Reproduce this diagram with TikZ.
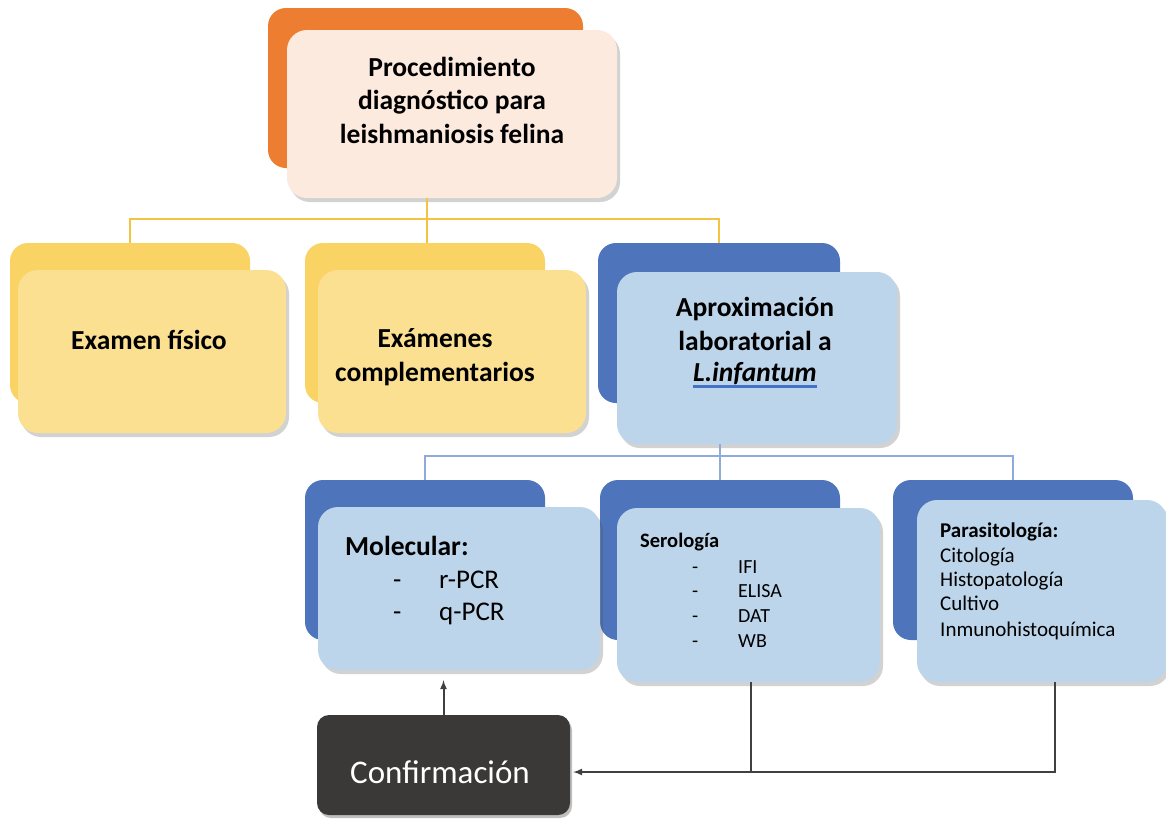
\documentclass[tikz,border=0pt]{standalone}
\usepackage{fontspec}
\setmainfont{Carlito}
\usetikzlibrary{shadows}
\definecolor{orangeB}{HTML}{ED7D31}
\definecolor{peachF}{HTML}{FCEADF}
\definecolor{yellowB}{HTML}{F9D465}
\definecolor{yellowF}{HTML}{FBE092}
\definecolor{blueB}{HTML}{4E74BB}
\definecolor{blueF}{HTML}{BDD5EA}
\definecolor{yline}{HTML}{F4C342}
\definecolor{bline}{HTML}{8FAADC}
\definecolor{darkbox}{HTML}{3B3838}
\definecolor{dline}{HTML}{404040}
\definecolor{ulblue}{HTML}{4472C4}
\tikzset{
  backbox/.style={rounded corners=18pt, inner sep=0pt, minimum width=240pt, minimum height=160pt},
  frontbox/.style={rounded corners=20pt, inner sep=0pt,
     drop shadow={shadow xshift=3pt, shadow yshift=-4pt, opacity=0.25, fill=black!70}},
  hd/.style={font=\bfseries\fontsize{27.5}{33.5}\selectfont, align=center, inner sep=0pt},
  lt/.style={anchor=base west, inner sep=0pt},
  big/.style={font=\fontsize{27}{30}\selectfont},
  small/.style={font=\fontsize{20}{24}\selectfont},
  mid/.style={font=\fontsize{21}{25}\selectfont},
  yconn/.style={draw=yline, line width=1.2pt},
  bconn/.style={draw=bline, line width=1.2pt},
  dconn/.style={draw=dline, line width=2pt},
}
\begin{document}
\begin{tikzpicture}[x=1pt,y=-1pt]
\useasboundingbox (0,0) rectangle (1166,820);
\fill[white] (0,0) rectangle (1166,820);

% coordinates for buses
\coordinate (bus1) at (427,219);
\coordinate (bus2) at (720,456);
\coordinate (jp) at (1055,772);
\coordinate (js) at (751,772);

% top
\node[backbox, fill=orangeB, minimum width=315pt] (topB) at (425.5,88) {};
\node[frontbox, fill=peachF, minimum width=330pt, minimum height=168pt] (topF) at (452,114) {};
\node[hd] (topT) at (452,100) {Procedimiento\\diagnóstico para\\leishmaniosis felina};

% level 2 back boxes
\node[backbox, fill=yellowB] (y1B) at (130,323) {};
\node[backbox, fill=yellowB] (y2B) at (425,323) {};
\node[backbox, fill=blueB, minimum width=242pt] (aB) at (719,323) {};

% yellow connectors
\draw[yconn] (bus1 |- topF.south) -- (bus1);
\draw[yconn] (y1B.north) |- (bus1) -| (aB.north);
\draw[yconn] (bus1) -- (bus1 |- y2B.north);

% level 2 front boxes
\node[frontbox, fill=yellowF, minimum width=268pt, minimum height=163pt] (y1F) at (152,351.5) {};
\node[hd] (y1T) at (149,340) {Examen físico};
\node[frontbox, fill=yellowF, minimum width=268pt, minimum height=163pt] (y2F) at (452,351.5) {};
\node[hd] (y2T) at (435,357) {Exámenes\\complementarios};
\node[frontbox, fill=blueF, minimum width=280pt, minimum height=172pt] (aF) at (757,358) {};
\node[hd] (aT) at (755,324) {Aproximación\\laboratorial a};
\node[hd, font=\bfseries\itshape\fontsize{27.5}{33.5}\selectfont, anchor=base] (aL) at (755,381) {L.infantum};
\draw[draw=ulblue, line width=3pt] ([yshift=-5pt]aL.base west) -- ([yshift=-5pt]aL.base east);

% level 3 back boxes
\node[backbox, fill=blueB] (mB) at (425,560) {};
\node[backbox, fill=blueB] (sB) at (720,560) {};
\node[backbox, fill=blueB] (pB) at (1013,560) {};

% blue connectors
\draw[bconn] (bus2 |- aF.south) -- (bus2);
\draw[bconn] (mB.north) |- (bus2) -| (pB.north);
\draw[bconn] (bus2) -- (sB.north);

% level 3 front boxes
\node[frontbox, fill=blueF, minimum width=282pt, minimum height=163pt] (mF) at (459,588.5) {};
\node[lt, big, font=\bfseries\fontsize{27.5}{30}\selectfont] (mT) at (345,555) {Molecular:};
\node[lt, big] (mD1) at (393,588) {-};
\node[lt, big] (mI1) at (439,588) {r-PCR};
\node[lt, big] (mD2) at (393,620) {-};
\node[lt, big] (mI2) at (439,620) {q-PCR};

\node[frontbox, fill=blueF, minimum width=263pt, minimum height=174pt] (sF) at (748.5,595) {};
\node[lt, small, font=\bfseries\fontsize{20.5}{24}\selectfont] (sT) at (640,547) {Serología};
\node[lt, small] (sD1) at (692,573) {-};
\node[lt, small] (sI1) at (738,573) {IFI};
\node[lt, small] (sD2) at (692,597) {-};
\node[lt, small] (sI2) at (738,597) {ELISA};
\node[lt, small] (sD3) at (692,622) {-};
\node[lt, small] (sI3) at (738,622) {DAT};
\node[lt, small] (sD4) at (692,647) {-};
\node[lt, small] (sI4) at (738,647) {WB};

\node[frontbox, fill=blueF, minimum width=250pt, minimum height=182pt] (pF) at (1042,591) {};
\node[lt, mid, font=\bfseries\fontsize{21}{25}\selectfont] (pT) at (940,537) {Parasitología:};
\node[lt, mid] (pI1) at (940,562) {Citología};
\node[lt, mid] (pI2) at (940,586) {Histopatología};
\node[lt, mid] (pI3) at (940,610) {Cultivo};
\node[lt, mid] (pI4) at (940,636) {Inmunohistoquímica};

% confirmation
\node[rounded corners=12pt, fill=darkbox, minimum width=253pt, minimum height=100pt, inner sep=0pt,
      drop shadow={shadow xshift=2pt, shadow yshift=-3pt, opacity=0.25, fill=black}] (cB) at (443.5,765) {};
\node[text=white, font=\fontsize{33}{36}\selectfont, inner sep=0pt] (cT) at (440,772) {Confirmación};

% dark connectors
\draw[dconn, -latex, shorten >=10pt] (cB.north) -- (cB.north |- mF.south);
\draw[dconn] (js |- sF.south) -- (js);
\draw[dconn, -latex, shorten >=3pt] (jp |- pF.south) -- (jp) -- (jp -| cB.east);
\end{tikzpicture}
\end{document}
